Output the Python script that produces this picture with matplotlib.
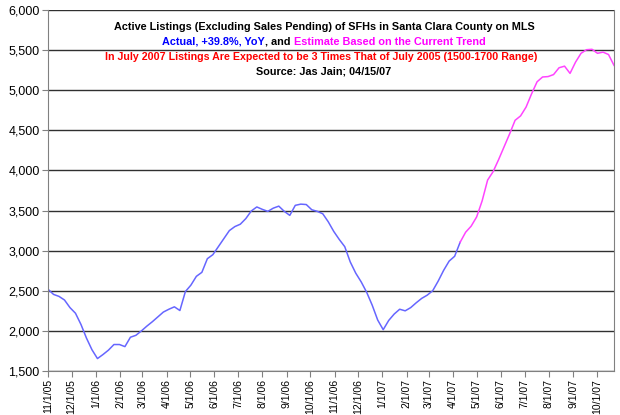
import pandas as pd
import matplotlib.pyplot as plt
from matplotlib.ticker import FuncFormatter

# weekly active listings (first week 11/1/05)
inicio = "2005-11-01"
listados = [2520, 2455, 2430, 2385, 2290, 2220, 2080, 1910, 1765, 1655,
            1705, 1760, 1830, 1830, 1804, 1921, 1945, 2000, 2060, 2115,
            2175, 2235, 2270, 2300, 2254, 2490, 2570, 2680, 2730, 2900,
            2950, 3050, 3150, 3250, 3300, 3330, 3400, 3495, 3545, 3515,
            3490, 3530, 3555, 3490, 3440, 3565, 3580, 3575, 3510, 3490,
            3460, 3360, 3240, 3140, 3050, 2860, 2720, 2610, 2480, 2320,
            2135, 2015, 2130, 2210, 2270, 2250, 2290, 2350, 2405, 2445,
            2500, 2620, 2755, 2870, 2930, 3105, 3230, 3305, 3420, 3620,
            3880, 3985, 4135, 4295, 4455, 4625, 4680, 4790, 4955, 5105,
            5165, 5170, 5195, 5280, 5300, 5210, 5350, 5460, 5505, 5510,
            5460, 5475, 5445, 5310]
ultimoReal = 75  # index of last actual week (4/15/07), rest is the estimate

fechas = pd.date_range(inicio, periods=len(listados), freq="7D")
serie = pd.Series(listados, index=fechas)

plt.rcParams['font.family'] = ['Liberation Sans', 'DejaVu Sans']

fig = plt.figure(figsize=(6.2, 4.15), dpi=100)
ax = fig.add_axes([48/620, 1-371/415, (614-48)/620, (371-10)/415])

ax.plot(serie.index[:ultimoReal+1], serie.values[:ultimoReal+1], color='#6666ff', lw=1.1)
ax.plot(serie.index[ultimoReal:], serie.values[ultimoReal:], color='#ff44ff', lw=1.1)

ax.set_ylim(1500, 6000)
ax.set_yticks(range(1500, 6001, 500))
ax.yaxis.set_major_formatter(FuncFormatter(lambda v, p: f"{int(v):,}"))
ax.set_xlim(fechas[0], fechas[-1])
meses = pd.date_range("2005-11-01", "2007-10-01", freq="MS")
ax.set_xticks(meses)
ax.set_xticklabels([f"{d.month}/{d.day}/{d.strftime('%y')}" for d in meses], rotation=90, fontsize=7.5)
ax.tick_params(axis='y', labelsize=9, length=4, color='#808080', pad=2)
ax.tick_params(axis='x', length=4, color='#808080', pad=2)

ax.grid(axis='y', color='#303030', lw=1)
ax.set_axisbelow(True)
for lado in ['left', 'bottom', 'right', 'top']:
    ax.spines[lado].set_color('#808080')
ax.spines['top'].set_visible(False)

# titulo en varias lineas (posiciones en pixeles de la figura)
def enFigura(x, y):
    return x/620, 1 - y/415

tam = 7.8
xc = 324
fig.text(*enFigura(xc, 30), "Active Listings (Excluding Sales Pending) of SFHs in Santa Clara County on MLS",
         ha='center', va='baseline', fontsize=tam, fontweight='bold')

partes = [("Actual, +39.8%, YoY", '#0000ff'), (", and ", 'black'), ("Estimate Based on the Current Trend", '#ff00ff')]
fig.canvas.draw()
renderer = fig.canvas.get_renderer()
textos = []
for s, c in partes:
    t = fig.text(*enFigura(0, 44.7), s, ha='left', va='baseline',
                 fontsize=tam, fontweight='bold', color=c)
    textos.append(t)
anchos = [t.get_window_extent(renderer).width for t in textos]
x0 = xc - sum(anchos)/2
for t, w in zip(textos, anchos):
    t.set_x(x0/620)
    x0 += w

fig.text(*enFigura(xc - 3, 60), "In July 2007 Listings Are Expected to be 3 Times That of July 2005 (1500-1700 Range)",
         ha='center', va='baseline', fontsize=tam - 0.1, fontweight='bold', color='#ff0000')
fig.text(*enFigura(xc, 74.5), "Source: Jas Jain; 04/15/07",
         ha='center', va='baseline', fontsize=tam, fontweight='bold')

plt.savefig('out.png', dpi=100)
